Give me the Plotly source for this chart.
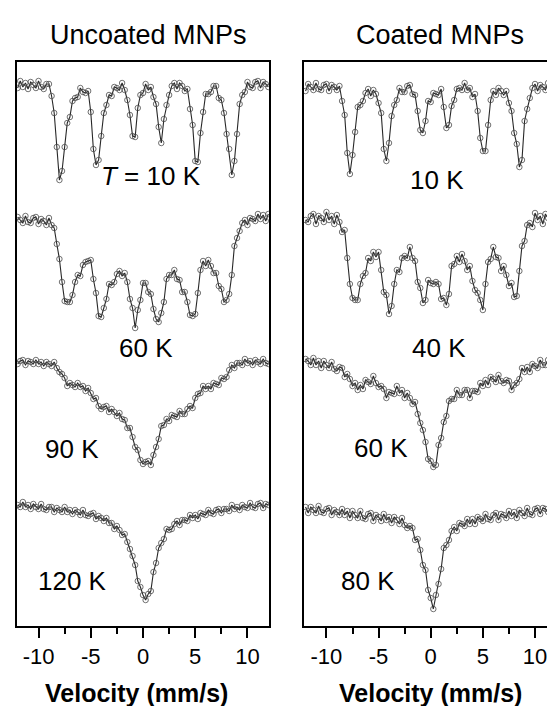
import plotly.graph_objects as go

# Doppler velocity channels (mm/s)
velocity = [-12.0, -11.75, -11.5, -11.25, -11.0, -10.75, -10.5, -10.25, -10.0, -9.75, -9.5, -9.25, -9.0, -8.75, -8.5, -8.25,
            -8.0, -7.75, -7.5, -7.25, -7.0, -6.75, -6.5, -6.25, -6.0, -5.75, -5.5, -5.25, -5.0, -4.75, -4.5, -4.25,
            -4.0, -3.75, -3.5, -3.25, -3.0, -2.75, -2.5, -2.25, -2.0, -1.75, -1.5, -1.25, -1.0, -0.75, -0.5, -0.25,
            0.0, 0.25, 0.5, 0.75, 1.0, 1.25, 1.5, 1.75, 2.0, 2.25, 2.5, 2.75, 3.0, 3.25, 3.5, 3.75,
            4.0, 4.25, 4.5, 4.75, 5.0, 5.25, 5.5, 5.75, 6.0, 6.25, 6.5, 6.75, 7.0, 7.25, 7.5, 7.75,
            8.0, 8.25, 8.5, 8.75, 9.0, 9.25, 9.5, 9.75, 10.0, 10.25, 10.5, 10.75, 11.0, 11.25, 11.5, 11.75, 12.0]

# Relative transmission (x10^-3, baseline = 1000)
uncoated_10K = [997, 1004, 998, 1002, 996, 1003, 1000, 997, 1004, 998, 996, 1001, 1001, 989, 972, 938,
                905, 914, 938, 962, 968, 984, 987, 988, 997, 993, 992, 994, 973, 936, 920, 925,
                949, 972, 980, 990, 989, 998, 997, 995, 1002, 995, 985, 970, 949, 948, 977, 990,
                992, 1001, 995, 998, 988, 981, 958, 942, 966, 980, 990, 999, 1002, 996, 1002, 999,
                994, 996, 976, 960, 924, 923, 952, 973, 991, 991, 993, 999, 999, 987, 985, 972,
                951, 936, 910, 924, 951, 981, 990, 993, 1003, 998, 997, 1003, 1004, 997, 1003, 1001, 998]
uncoated_60K = [1003, 1000, 997, 1004, 998, 997, 1002, 1003, 996, 1001, 999, 995, 1002, 995, 992, 976,
                961, 938, 919, 918, 918, 925, 938, 945, 944, 955, 958, 959, 960, 941, 927, 904,
                903, 912, 921, 936, 935, 938, 946, 949, 944, 947, 938, 921, 912, 892, 910, 920,
                937, 937, 928, 926, 911, 901, 898, 907, 918, 941, 945, 945, 950, 941, 940, 928,
                928, 918, 905, 904, 906, 927, 950, 959, 954, 960, 954, 947, 947, 934, 931, 918,
                920, 926, 945, 974, 982, 989, 997, 1000, 995, 1002, 1001, 999, 1006, 1001, 1005, 999, 1006]
uncoated_90K = [998, 1001, 1002, 997, 1001, 1000, 998, 1002, 998, 1000, 996, 1000, 998, 996, 1000, 994,
                990, 988, 984, 976, 979, 977, 975, 979, 975, 976, 971, 974, 969, 963, 964, 956,
                953, 955, 956, 950, 953, 950, 946, 949, 943, 942, 934, 934, 925, 915, 912, 902,
                898, 900, 901, 897, 907, 915, 923, 936, 937, 943, 941, 947, 946, 945, 951, 948,
                948, 953, 956, 954, 964, 968, 969, 976, 973, 976, 973, 979, 978, 977, 984, 983,
                985, 992, 997, 994, 999, 999, 997, 1003, 999, 1001, 997, 1002, 1000, 998, 1003, 999, 998]
uncoated_120K = [1000, 998, 1003, 998, 1000, 996, 1001, 998, 996, 1001, 996, 995, 998, 998, 993, 997,
                 995, 993, 998, 993, 995, 991, 995, 993, 990, 995, 990, 989, 991, 992, 986, 989,
                 987, 984, 987, 982, 982, 976, 979, 975, 970, 971, 963, 956, 949, 940, 924, 918,
                 910, 905, 911, 914, 933, 942, 957, 962, 966, 976, 975, 976, 981, 984, 980, 985,
                 985, 984, 990, 987, 990, 986, 992, 991, 990, 995, 992, 991, 995, 996, 992, 996,
                 996, 994, 1000, 996, 998, 995, 1000, 998, 997, 1002, 998, 997, 1001, 1002, 997, 1001, 1000]

coated_10K = [996, 1003, 1000, 997, 1004, 998, 997, 1002, 1003, 996, 1002, 1000, 997, 1001, 986, 972,
              934, 913, 932, 955, 980, 982, 986, 994, 998, 991, 997, 993, 984, 974, 938, 926,
              944, 971, 982, 987, 999, 995, 995, 1001, 1002, 993, 992, 976, 957, 954, 966, 986,
              985, 994, 993, 992, 998, 980, 959, 962, 981, 987, 998, 999, 997, 1004, 997, 999,
              990, 993, 976, 949, 936, 936, 962, 987, 996, 992, 999, 996, 992, 996, 984, 976,
              954, 943, 920, 927, 966, 978, 989, 999, 1003, 996, 1002, 1000, 997, 1004, 998, 1002, 996]
coated_40K = [998, 996, 1002, 1004, 994, 1002, 1000, 996, 1006, 998, 1002, 994, 1003, 996, 986, 988,
              960, 934, 920, 918, 918, 934, 942, 945, 960, 957, 966, 961, 966, 948, 926, 923,
              904, 912, 934, 948, 946, 960, 962, 960, 971, 960, 957, 936, 930, 915, 918, 938,
              935, 934, 936, 934, 919, 920, 913, 924, 952, 954, 962, 956, 964, 957, 948, 952,
              937, 928, 925, 918, 908, 934, 956, 959, 971, 961, 960, 947, 952, 943, 932, 935,
              921, 922, 947, 972, 977, 993, 995, 991, 1005, 998, 1002, 994, 1004, 1000, 996, 1006, 998]
coated_60K = [1003, 1001, 997, 1004, 997, 1001, 994, 1001, 997, 994, 1000, 993, 991, 995, 994, 985,
              988, 983, 976, 979, 972, 977, 973, 982, 980, 978, 986, 979, 975, 976, 973, 964,
              970, 969, 968, 976, 969, 972, 964, 969, 964, 958, 960, 948, 939, 932, 920, 903,
              901, 895, 897, 917, 924, 940, 946, 961, 963, 963, 972, 967, 967, 972, 972, 964,
              971, 971, 970, 979, 976, 982, 977, 985, 983, 980, 987, 981, 979, 982, 981, 972,
              977, 979, 983, 994, 990, 995, 990, 998, 996, 994, 1002, 997, 997, 1002, 1003, 996, 1002]
coated_80K = [1003, 997, 1003, 1000, 997, 1004, 998, 997, 1001, 1002, 995, 1000, 998, 995, 1001, 995,
              999, 992, 999, 995, 992, 999, 992, 991, 996, 997, 989, 995, 993, 989, 996, 990,
              993, 987, 993, 990, 986, 992, 985, 982, 984, 982, 970, 971, 960, 945, 940, 920,
              912, 901, 915, 926, 941, 962, 965, 970, 979, 983, 979, 987, 986, 984, 991, 986,
              991, 986, 993, 991, 989, 996, 991, 990, 995, 997, 990, 996, 995, 992, 999, 994,
              998, 992, 1000, 997, 994, 1002, 996, 995, 1001, 1002, 996, 1002, 1001, 998, 1005, 999, 1003]

uncoated_spectra = [uncoated_10K, uncoated_60K, uncoated_90K, uncoated_120K]
coated_spectra = [coated_10K, coated_40K, coated_60K, coated_80K]
uncoated_offsets = [541, 406, 264, 121]
coated_offsets = [539, 408, 264, 116]
uncoated_labels = ["<i>T</i> = 10 K", "60 K", "90 K", "120 K"]
coated_labels = ["10 K", "40 K", "60 K", "80 K"]
panel_titles = ["Uncoated MNPs", "Coated MNPs"]
tick_values = [-10, -5, 0, 5, 10]
tick_text = ["-10", "-5", "0", "5", "10"]
x_title = "Velocity (mm/s)"

W, H = 547, 706
FONT = "Liberation Sans, Arial, sans-serif"

fig = go.Figure()
marker = dict(symbol="circle-open", size=5.5, color="rgba(70,70,70,0.85)", line=dict(width=0.9))
line = dict(color="rgba(15,15,15,0.9)", width=1.1)

for spec, off in zip(uncoated_spectra, uncoated_offsets):
    fig.add_trace(go.Scatter(x=velocity, y=[t - 1000 + off for t in spec], mode="lines+markers",
                             marker=marker, line=line, xaxis="x", yaxis="y", showlegend=False))
for spec, off in zip(coated_spectra, coated_offsets):
    fig.add_trace(go.Scatter(x=velocity, y=[t - 1000 + off for t in spec], mode="lines+markers",
                             marker=marker, line=line, xaxis="x2", yaxis="y2", showlegend=False))

def px_x(p):
    return p / W

def px_y(p):
    return 1 - p / H

y_dom = [px_y(626), px_y(62)]
common_x = dict(showline=True, linewidth=2, linecolor="black", mirror=True,
                ticks="outside", ticklen=10, tickwidth=1.5, tickcolor="black",
                tickvals=tick_values, ticktext=tick_text, showgrid=False, zeroline=False,
                ticklabeloverflow="allow",
                tickfont=dict(family=FONT, size=22, color="black"),
                minor=dict(dtick=2.5, tick0=0, ticks="outside", ticklen=6, tickwidth=1.5, tickcolor="black"))

fig.update_layout(
    width=W, height=H, margin=dict(l=0, r=0, t=0, b=0),
    paper_bgcolor="white", plot_bgcolor="white",
    xaxis=dict(domain=[px_x(17), px_x(269)], range=[-12.06, 12.06], **common_x),
    yaxis=dict(domain=y_dom, range=[0, 564], showline=True, linewidth=2, linecolor="black",
               mirror=True, showticklabels=False, ticks="", showgrid=False, zeroline=False),
    xaxis2=dict(domain=[px_x(304), 1.0], range=[-12.15, 11.15], anchor="y2", **common_x),
    yaxis2=dict(domain=y_dom, range=[0, 564], anchor="x2", showline=True, linewidth=2,
                linecolor="black", mirror=False, showticklabels=False, ticks="",
                showgrid=False, zeroline=False),
)

ann = []
lab_font = dict(family=FONT, size=26, color="black")
for text, (cx, cy) in zip(uncoated_labels, [(151, 176), (146, 348), (72, 449), (72, 581)]):
    ann.append(dict(text=text, x=px_x(cx), y=px_y(cy), xref="paper", yref="paper",
                    showarrow=False, font=lab_font, xanchor="center", yanchor="middle"))
for text, (cx, cy) in zip(coated_labels, [(437, 180), (439, 348), (381, 448), (368, 581)]):
    ann.append(dict(text=text, x=px_x(cx), y=px_y(cy), xref="paper", yref="paper",
                    showarrow=False, font=lab_font, xanchor="center", yanchor="middle"))
for text, cx in zip(panel_titles, [149, 440]):
    ann.append(dict(text=text, x=px_x(cx), y=px_y(35), xref="paper", yref="paper",
                    showarrow=False, font=dict(family=FONT, size=27, color="black"),
                    xanchor="center", yanchor="middle"))
for cx in [136, 430]:
    ann.append(dict(text="<b>" + x_title + "</b>", x=px_x(cx), y=px_y(693), xref="paper", yref="paper",
                    showarrow=False, font=dict(family=FONT, size=25, color="black"),
                    xanchor="center", yanchor="middle"))
fig.update_layout(annotations=ann)

fig.write_html("out.html")
